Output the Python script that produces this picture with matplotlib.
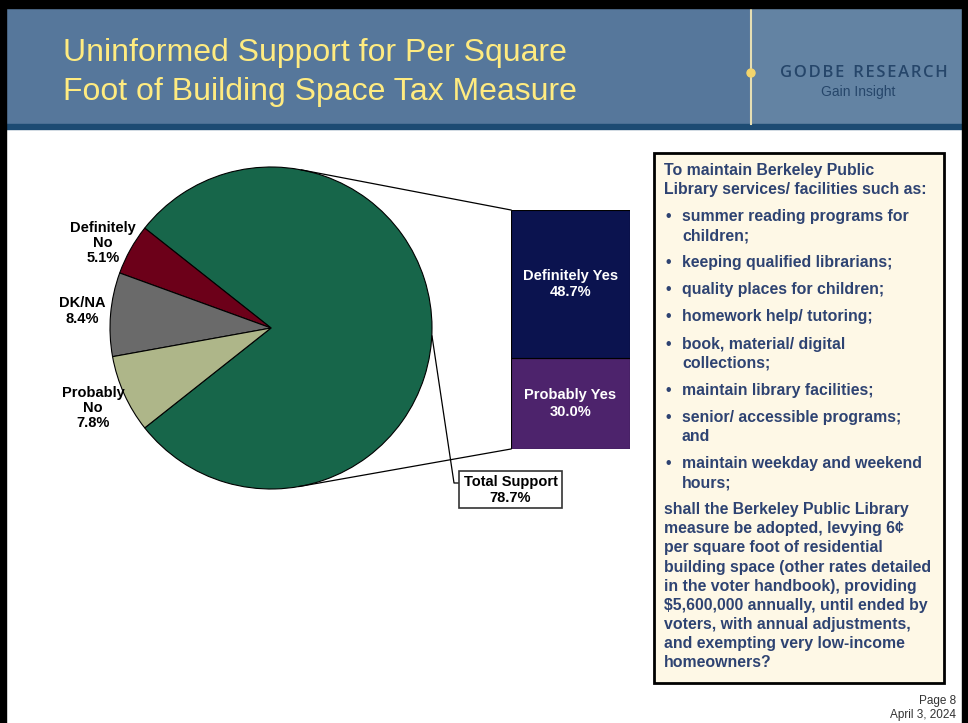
import numpy as np
import matplotlib
matplotlib.use('Agg')
import matplotlib.pyplot as plt
from matplotlib.patches import Rectangle, Circle

plt.rcParams['font.family'] = ['Liberation Sans', 'DejaVu Sans']

# data
pie_labels = ['Total Support', 'Definitely\nNo', 'DK/NA', 'Probably\nNo']
pie_values = [78.7, 5.1, 8.4, 7.8]
pie_colors = ['#17664A', '#6C0019', '#6A6A6A', '#AEB689']

bar_labels = ['Probably Yes', 'Definitely Yes']
bar_values = [30.0, 48.7]
bar_colors = ['#4D236C', '#0B134F']

title_lines = ['Uninformed Support for Per Square',
               'Foot of Building Space Tax Measure']

box_items = [
    ('head', ['To maintain Berkeley Public', 'Library services/ facilities such as:']),
    ('bullet', ['summer reading programs for', 'children;']),
    ('bullet', ['keeping qualified librarians;']),
    ('bullet', ['quality places for children;']),
    ('bullet', ['homework help/ tutoring;']),
    ('bullet', ['book, material/ digital', 'collections;']),
    ('bullet', ['maintain library facilities;']),
    ('bullet', ['senior/ accessible programs;', 'and']),
    ('bullet', ['maintain weekday and weekend', 'hours;']),
    ('head', ['shall the Berkeley Public Library', 'measure be adopted, levying 6\u00a2',
              'per square foot of residential', 'building space (other rates detailed',
              'in the voter handbook), providing', '$5,600,000 annually, until ended by',
              'voters, with annual adjustments,', 'and exempting very low-income',
              'homeowners?']),
]

W, H = 968, 723
fig = plt.figure(figsize=(W / 100, H / 100), dpi=100)
ax = fig.add_axes([0, 0, 1, 1])


def Y(y):
    return H - y


# frame and header
ax.add_patch(Rectangle((0, Y(8)), W, 8, color='black', zorder=5))
ax.add_patch(Rectangle((0, 0), 6, H, color='black', zorder=5))
ax.add_patch(Rectangle((962, 0), 6, H, color='black', zorder=5))
ax.add_patch(Rectangle((6, Y(124)), 956, 116, color='#56779B', zorder=1))
ax.add_patch(Rectangle((752, Y(124)), 210, 116, color='#6383A3', zorder=1))
ax.add_patch(Rectangle((6, Y(129)), 956, 5, color='#1D4B73', zorder=2))
ax.plot([751, 751], [Y(8), Y(124)], color='#E6DFB3', lw=1.5, zorder=3)
ax.add_patch(Circle((751, Y(73)), 4, color='#F3D56C', zorder=4))

for i, line in enumerate(title_lines):
    ax.text(63, Y(53 + 39 * i), line, fontsize=23, color='#FFEB80',
            va='center', ha='left', zorder=6)

godbe = '\u200a'.join('GODBE') + '  ' + '\u200a'.join('RESEARCH')
ax.text(864, Y(73), godbe, fontsize=12, color='#26466A',
        ha='center', va='center', fontweight='semibold',
        family=['Open Sans', 'DejaVu Sans'], zorder=6)
ax.text(858, Y(92), 'Gain Insight', fontsize=10, color='#26466A',
        ha='center', va='center', zorder=6)

# pie
cx, cy, r = 271, Y(328), 161
start = -pie_values[0] / 100 * 360 / 2
ax.pie(pie_values, colors=pie_colors, startangle=start, counterclock=True,
       center=(cx, cy), radius=r, frame=True,
       wedgeprops=dict(edgecolor='black', linewidth=0.8))
ax.set_xlim(0, W)
ax.set_ylim(0, H)
ax.set_aspect('auto')
ax.axis('off')

pie_text_pos = [None, (103, 243), (82, 311), (93, 408)]
for lab, val, pos in zip(pie_labels, pie_values, pie_text_pos):
    if pos is None:
        continue
    ax.text(pos[0], Y(pos[1]), f'{lab}\n{val:.1f}%', fontsize=10.5, fontweight='bold',
            ha='center', va='center', linespacing=1.13)

# stacked bar
bx0, bx1, by_top, by_bot = 511, 630, 210, 449
bax = fig.add_axes([bx0 / W, Y(by_bot) / H, (bx1 - bx0) / W, (by_bot - by_top) / H])
bottom = 0
for lab, val, col in zip(bar_labels, bar_values, bar_colors):
    bax.bar(0, val, bottom=bottom, width=1, color=col, edgecolor='black', linewidth=0.8)
    bax.text(0, bottom + val / 2, f'{lab}\n{val:.1f}%', color='white', fontsize=10.5,
             fontweight='bold', ha='center', va='center', linespacing=1.2)
    bottom += val
bax.set_xlim(-0.5, 0.5)
bax.set_ylim(0, sum(bar_values))
bax.axis('off')


# tangent connector lines from pie to bar corners
def tangent(px, py, upper):
    dx, dy = px - cx, py - cy
    d = np.hypot(dx, dy)
    base = np.arctan2(dy, dx)
    off = np.arccos(r / d)
    a = base + off if upper else base - off
    return cx + r * np.cos(a), cy + r * np.sin(a)


for corner, up in [((bx0, Y(by_top)), True), ((bx0, Y(by_bot)), False)]:
    tx, ty = tangent(corner[0], corner[1], up)
    ax.plot([tx, corner[0]], [ty, corner[1]], color='black', lw=0.9, zorder=3)

# total support label
ax.plot([432, 454, 459], [Y(336), Y(483), Y(483)], color='black', lw=0.9, zorder=3)
ax.add_patch(Rectangle((459, Y(508)), 103, 37, facecolor='white',
                       edgecolor='#333333', lw=1.2, zorder=4))
ax.text(510.5, Y(490), f'{pie_labels[0]}\n{pie_values[0]:.1f}%', fontsize=10.5,
        fontweight='bold', ha='center', va='center', linespacing=1.15, zorder=5)

# question text box
ax.add_patch(Rectangle((654, Y(683)), 290, 530, facecolor='#FEF8E6',
                       edgecolor='black', lw=2, zorder=2))
tc = '#2E4372'
step, gap = 19.15, 7.9
y = 170
for kind, lines in box_items:
    for j, line in enumerate(lines):
        if kind == 'bullet':
            if j == 0:
                ax.text(665, Y(y + 5), '\u2022', fontsize=11.4, fontweight='bold',
                        color=tc, ha='left', va='baseline', zorder=3)
            x0 = 682
        else:
            x0 = 664
        ax.text(x0, Y(y + 5), line, fontsize=11.4, fontweight='bold', color=tc,
                ha='left', va='baseline', zorder=3)
        y += step
    y += gap

# footer
ax.text(956, Y(701), 'Page 8', fontsize=8.5, color='#333333', ha='right', va='center')
ax.text(956, Y(715), 'April 3, 2024', fontsize=8.5, color='#333333', ha='right', va='center')

fig.savefig('out.png', dpi=100)
